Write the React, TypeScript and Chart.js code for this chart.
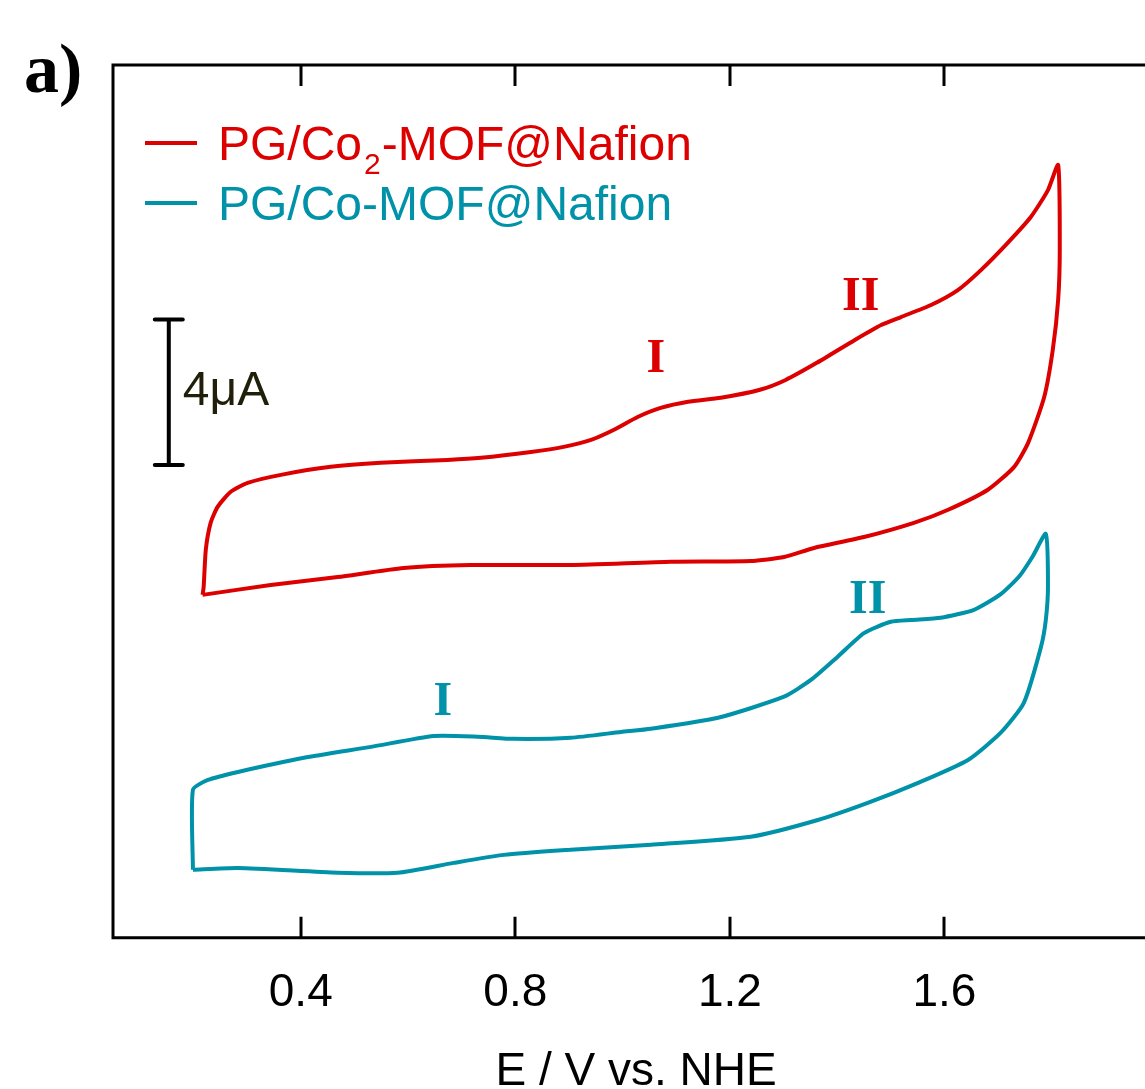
import { useEffect, useRef } from "react";
import { Chart, registerables } from "chart.js";

Chart.register(...registerables);

// ---- Data (E in V vs. NHE, I in µA, arbitrary offset) ----
const redE = [0.217, 0.219, 0.223, 0.232, 0.245, 0.269, 0.301, 0.363, 0.456, 0.549, 0.674, 0.736, 0.829, 0.89, 0.941, 0.984, 1.028, 1.071, 1.122, 1.183, 1.256, 1.304, 1.362, 1.433, 1.482, 1.519, 1.575, 1.625, 1.668, 1.718, 1.761, 1.793, 1.812, 1.815, 1.812, 1.802, 1.786, 1.756, 1.73, 1.681, 1.607, 1.543, 1.45, 1.357, 1.301, 1.239, 1.09, 0.903, 0.717, 0.592, 0.469, 0.344, 0.217];
const redI = [9.43, 9.65, 10.67, 11.41, 11.85, 12.26, 12.51, 12.73, 12.95, 13.06, 13.14, 13.2, 13.36, 13.5, 13.69, 13.97, 14.32, 14.57, 14.74, 14.85, 15.07, 15.34, 15.81, 16.44, 16.85, 17.07, 17.4, 17.81, 18.36, 19.11, 19.82, 20.56, 21.25, 18.91, 17.54, 16.17, 14.87, 13.61, 12.95, 12.32, 11.77, 11.41, 11.02, 10.72, 10.47, 10.36, 10.34, 10.25, 10.25, 10.17, 9.92, 9.7, 9.43];

const tealE = [0.199, 0.199, 0.227, 0.283, 0.406, 0.531, 0.648, 0.73, 0.797, 0.903, 0.997, 1.053, 1.178, 1.301, 1.351, 1.401, 1.45, 1.5, 1.538, 1.593, 1.655, 1.705, 1.74, 1.765, 1.789, 1.793, 1.789, 1.78, 1.748, 1.705, 1.644, 1.551, 1.457, 1.364, 1.239, 1.053, 0.903, 0.779, 0.685, 0.581, 0.469, 0.283, 0.199];
const tealI = [1.87, 4.07, 4.34, 4.56, 4.95, 5.25, 5.55, 5.53, 5.47, 5.5, 5.66, 5.75, 6.05, 6.63, 7.09, 7.73, 8.38, 8.69, 8.74, 8.8, 9.02, 9.45, 9.95, 10.5, 11.11, 9.65, 8.74, 8.0, 6.46, 5.64, 4.89, 4.26, 3.71, 3.24, 2.78, 2.56, 2.42, 2.28, 2.06, 1.79, 1.79, 1.92, 1.87];

const xTicks = [0.4, 0.8, 1.2, 1.6];
const seriesLabels = ["PG/Co\u2082-MOF@Nafion", "PG/Co-MOF@Nafion"];
const seriesColors = ["#dd0000", "#0092a8"];
const legendParts = [
  [{ t: "PG/Co", sub: false }, { t: "2", sub: true }, { t: "-MOF@Nafion", sub: false }],
  [{ t: "PG/Co-MOF@Nafion", sub: false }],
];
const peakLabels = [
  { text: "I", x: 1.062, y: 15.56, series: 0 },
  { text: "II", x: 1.444, y: 17.26, series: 0 },
  { text: "I", x: 0.665, y: 6.13, series: 1 },
  { text: "II", x: 1.457, y: 8.93, series: 1 },
];
const scaleBarX = 0.154;
const scaleBarBase = 13;
const scaleBarSize = 4; // µA
const scaleBarText = "4\u03bcA";
const panelLabel = "a)";
const xTitle = "E / V vs. NHE";

const SANS = "'Liberation Sans', Arial, sans-serif";
const SERIF = "'Liberation Serif', 'Times New Roman', serif";

const overlay = {
  id: "overlay",
  afterDraw(chart: any) {
    const { ctx, chartArea: ca, scales } = chart;
    const x = scales.x;
    const y = scales.y;
    ctx.save();
    // frame
    ctx.strokeStyle = "#000";
    ctx.lineWidth = 3;
    ctx.lineCap = "square";
    ctx.beginPath();
    ctx.moveTo(ca.right, ca.top);
    ctx.lineTo(ca.left, ca.top);
    ctx.lineTo(ca.left, ca.bottom);
    ctx.lineTo(ca.right, ca.bottom);
    ctx.lineTo(ca.right, ca.top);
    ctx.stroke();
    // inward ticks
    ctx.lineCap = "butt";
    ctx.beginPath();
    xTicks.forEach((v) => {
      const px = Math.round(x.getPixelForValue(v));
      ctx.moveTo(px, ca.bottom);
      ctx.lineTo(px, ca.bottom - 21);
      ctx.moveTo(px, ca.top);
      ctx.lineTo(px, ca.top + 21);
    });
    ctx.stroke();

    // scale bar
    const sx = x.getPixelForValue(scaleBarX);
    const sy0 = y.getPixelForValue(scaleBarBase);
    const sy1 = y.getPixelForValue(scaleBarBase + scaleBarSize);
    ctx.lineWidth = 4;
    ctx.lineCap = "round";
    ctx.beginPath();
    ctx.moveTo(sx, sy0);
    ctx.lineTo(sx, sy1);
    ctx.moveTo(sx - 14, sy0);
    ctx.lineTo(sx + 14, sy0);
    ctx.moveTo(sx - 14, sy1);
    ctx.lineTo(sx + 14, sy1);
    ctx.stroke();
    ctx.fillStyle = "#1f1f0a";
    ctx.font = `48px ${SANS}`;
    ctx.textAlign = "left";
    ctx.textBaseline = "alphabetic";
    ctx.fillText(scaleBarText, sx + 14, (sy0 + sy1) / 2 + 13);

    // peak labels
    ctx.font = `bold 48px ${SERIF}`;
    ctx.textAlign = "center";
    peakLabels.forEach((p) => {
      ctx.fillStyle = seriesColors[p.series];
      ctx.fillText(p.text, x.getPixelForValue(p.x), y.getPixelForValue(p.y));
    });

    // legend
    ctx.lineCap = "butt";
    legendParts.forEach((parts, i) => {
      const ly = 143 + i * 60;
      ctx.strokeStyle = seriesColors[i];
      ctx.lineWidth = 4;
      ctx.beginPath();
      ctx.moveTo(145, ly);
      ctx.lineTo(197, ly);
      ctx.stroke();
      ctx.fillStyle = seriesColors[i];
      ctx.textAlign = "left";
      let tx = 218;
      const base = ly + 17;
      parts.forEach((part) => {
        if (part.sub) {
          ctx.font = `30px ${SANS}`;
          ctx.fillText(part.t, tx + 2, base + 14);
          tx += ctx.measureText(part.t).width + 3;
        } else {
          ctx.font = `48px ${SANS}`;
          ctx.fillText(part.t, tx, base);
          tx += ctx.measureText(part.t).width;
        }
      });
    });

    // panel label
    ctx.fillStyle = "#000";
    ctx.font = `bold 70px ${SERIF}`;
    ctx.textAlign = "left";
    ctx.fillText(panelLabel, 24, 92);
    ctx.restore();
  },
};

export default function App() {
  const ref = useRef<HTMLCanvasElement | null>(null);
  useEffect(() => {
    if (!ref.current) return;
    const chart = new Chart(ref.current, {
      type: "scatter",
      data: {
        datasets: [
          {
            label: seriesLabels[0],
            data: redE.map((e, i) => ({ x: e, y: redI[i] })),
            borderColor: seriesColors[0],
            backgroundColor: seriesColors[0],
            showLine: true,
            pointRadius: 0,
            borderWidth: 4,
            tension: 0.2,
          },
          {
            label: seriesLabels[1],
            data: tealE.map((e, i) => ({ x: e, y: tealI[i] })),
            borderColor: seriesColors[1],
            backgroundColor: seriesColors[1],
            showLine: true,
            pointRadius: 0,
            borderWidth: 4,
            tension: 0.2,
          },
        ],
      },
      options: {
        responsive: false,
        animation: false,
        layout: { padding: { left: 113, top: 65, right: 41, bottom: 5 } },
        plugins: { legend: { display: false }, tooltip: { enabled: false } },
        scales: {
          x: {
            type: "linear",
            min: 0.05,
            max: 2.0,
            afterBuildTicks: (s: any) => {
              s.ticks = xTicks.map((v) => ({ value: v }));
            },
            grid: { display: false, drawTicks: false },
            border: { display: false },
            ticks: {
              color: "#000",
              font: { family: SANS, size: 46 },
              padding: 28,
              maxRotation: 0,
              autoSkip: false,
              callback: (v: any) => Number(v).toFixed(1),
            },
            title: {
              display: true,
              text: xTitle,
              color: "#000",
              font: { family: SANS, size: 46, lineHeight: 1.0 },
              padding: 0,
            },
          },
          y: { display: false, min: 0, max: 24 },
        },
      },
      plugins: [overlay],
    });
    return () => chart.destroy();
  }, []);
  return (
    <div style={{ position: "absolute", left: 0, top: 0, width: 1145, height: 1089, overflow: "hidden", background: "#fff" }}>
      <canvas ref={ref} width={1200} height={1100} style={{ display: "block" }} />
    </div>
  );
}
